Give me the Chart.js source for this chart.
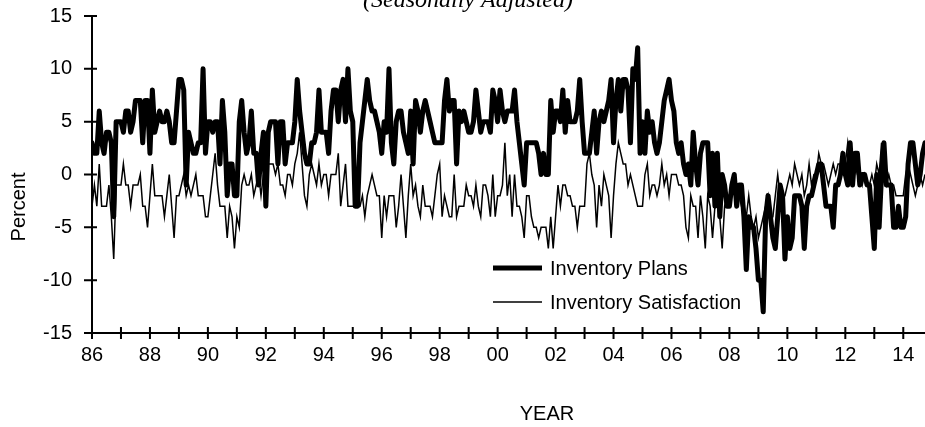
<!DOCTYPE html>
<html>
<head>
<meta charset="utf-8">
<script src="https://cdn.jsdelivr.net/npm/chart.js@4.4.1/dist/chart.umd.min.js"></script>
<style>
  html, body { margin: 0; padding: 0; background: #fff; }
  #wrap { width: 925px; height: 427px; position: relative; }
</style>
</head>
<body>
<div id="wrap"><canvas id="chart"></canvas></div>
<script>
// monthly values, Jan 1986 onwards (net percent, seasonally adjusted)
const startYear = 1986;

const plans = [
  3, 2, 2, 6, 3, 2, 4, 4, 3, -4, 5, 5,
  5, 4, 6, 6, 4, 5, 7, 7, 7, 3, 7, 7,
  2, 8, 4, 5, 6, 5, 5, 6, 5, 3, 3, 6,
  9, 9, 8, -1, 4, 3, 2, 2, 3, 3, 10, 2,
  5, 5, 4, 5, 5, 1, 7, 4, -2, 1, 1, -2,
  -2, 5, 7, 4, 2, 3, 6, 2, 2, -1, 2, 4,
  -3, 4, 5, 5, 5, 1, 5, 5, 1, 3, 3, 3,
  5, 9, 6, 4, 2, 1, 1, 3, 3, 4, 8, 4,
  4, 4, 2, 6, 8, 8, 5, 8, 9, 5, 10, 6,
  5, -3, -3, 3, 5, 7, 9, 7, 6, 6, 5, 4,
  2, 5, 4, 10, 3, 1, 5, 6, 6, 4, 3, 2,
  6, 1, 7, 6, 4, 6, 7, 6, 5, 4, 3, 3,
  3, 3, 7, 9, 6, 7, 7, 1, 6, 5, 6, 5,
  4, 4, 5, 8, 6, 4, 5, 5, 5, 4, 8, 7,
  5, 8, 6, 5, 6, 6, 6, 8, 5, 3, 1, -1,
  3, 3, 3, 3, 3, 2, 0, 2, 0, 0, 7, 4,
  6, 6, 5, 8, 4, 7, 5, 5, 5, 6, 9, 5,
  2, 2, 2, 4, 6, 2, 5, 6, 5, 6, 7, 9,
  3, 7, 9, 6, 9, 9, 8, 3, 10, 9, 12, 2,
  5, 2, 6, 4, 5, 3, 2, 3, 5, 7, 8, 9,
  7, 6, 3, 2, 3, 1, 0, 1, -1, 4, 1, -1,
  2, 3, 3, 3, -2, 2, -3, 2, -4, 0, -1, -3,
  -3, -1, 0, -3, -1, -1, -4, -9, -4, -5, -5, -7,
  -10, -10, -13, -4, -2, -4, -6, -7, -4, -1, -2, -8,
  -4, -7, -6, -2, -2, -2, -3, -7, -3, -2, -2, -1,
  0, 1, 1, -1, -3, -3, -3, -5, -1, -1, 0, 2,
  0, -1, 3, -1, 2, 2, -1, 0, 0, -1, -1, -4,
  -7, 0, -5, 0, 3, -1, -1, -1, -5, -5, -3, -5,
  -5, -4, 1, 3, 3, 1, -1, 0, 2, 3
];

const satisfaction = [
  -3, -1, -3, 1, -3, -3, -3, -1, -4, -8, -1, -1,
  -1, 1, -1, -1, -3, -1, -1, -1, 0, -3, -3, -5,
  -2, 1, -2, -2, -2, -2, -4, -2, 0, -3, -6, -2,
  -2, -1, 0, -2, -1, -2, -1, 0, -2, -2, -2, -4,
  -4, -2, 0, 2, -1, -3, -3, -3, -6, -3, -4, -7,
  -4, -5, -1, 0, -1, -1, 0, -2, -1, 0, -2, 0,
  -3, 1, 1, 1, 0, 1, -1, -1, -2, 0, 0, -1,
  1, 2, 4, 1, -2, -3, 0, 1, 0, -1, 1, -1,
  0, 0, -2, 0, 0, 0, 2, -3, -1, 1, -3, -3,
  -3, -3, -3, -3, -2, -4, -2, -1, 0, -1, -2, -2,
  -6, -2, -4, -2, -2, -2, -5, -3, 0, -3, -6, -2,
  1, -2, -1, -3, -4, -1, -3, -3, -3, -4, -2, 0,
  1, -4, -2, -3, -4, -4, 0, -4, -3, -3, -3, -1,
  -2, -2, -3, -1, -3, -4, -1, -1, -2, -4, 0, -4,
  -2, -2, -1, 3, -2, 0, -4, 0, -3, -3, -4, -6,
  -2, -2, -4, -5, -5, -6, -5, -5, -5, -7, -4, -7,
  -4, -1, -3, -1, -1, -2, -2, -3, -3, -5, -3, -3,
  -3, 1, 2, 0, -1, -5, -1, -3, 0, -1, -2, -6,
  -2, 1, 3, 2, 1, 1, -1, 0, -1, -2, -3, -3,
  -3, 0, 1, -2, -1, -1, -2, -1, 1, -1, 0, -2,
  0, 0, 0, -1, -1, -2, -5, -6, -2, -3, -3, -6,
  -2, -4, -7, -2, -3, -6, -3, -3, -4, -7, -3, -2,
  -2, -1, -1, -1, -2, -3, -3, -4, -2, -4, -5, -4,
  -6, -5, -4, -3, -2, -4, -4, -2, 0, -2, -2, -2,
  -1, 0, -1, 1, 0, -1, 0, -2, -1, 1, -1, 0,
  0, 2, 1, 1, 0, -1, 0, 1, 0, 1, 1, 2,
  1, 3, 1, 1, 1, 0, 0, -1, 0, -1, -1, 0,
  -1, 1, 0, 3, 0, -1, 0, -1, -1, -2, -2, -2,
  -2, 0, 1, 0, -1, -2, -1, 0, -1, 0
];

const seriesNames = ['Inventory Plans', 'Inventory Satisfaction'];
const subtitle = '(Seasonally Adjusted)';
const xTitle = 'YEAR';
const yTitle = 'Percent';

const SANS = '"Liberation Sans", Arial, sans-serif';

function toPoints(values) {
  return values.map((v, i) => ({ x: startYear + i / 12, y: v }));
}
const lastX = startYear + (plans.length - 1) / 12;

// ticks crossing the axes, inset legend, titles
const decorations = {
  id: 'decorations',
  afterDraw(chart) {
    const ctx = chart.ctx;
    const xs = chart.scales.x, ys = chart.scales.y;
    const area = chart.chartArea;
    ctx.save();
    ctx.strokeStyle = '#000';
    ctx.lineWidth = 2;
    ctx.beginPath();
    xs.ticks.forEach(t => {
      const px = xs.getPixelForValue(t.value);
      ctx.moveTo(px, area.bottom - 6);
      ctx.lineTo(px, area.bottom + 6);
    });
    ys.ticks.forEach(t => {
      const py = ys.getPixelForValue(t.value);
      ctx.moveTo(area.left - 8, py);
      ctx.lineTo(area.left + 5, py);
    });
    ctx.stroke();

    // legend
    ctx.fillStyle = '#000';
    ctx.font = '20px ' + SANS;
    ctx.textBaseline = 'middle';
    ctx.textAlign = 'left';
    const rows = [268, 302];
    chart.data.datasets.forEach((ds, i) => {
      ctx.beginPath();
      ctx.lineWidth = ds.borderWidth;
      ctx.lineCap = 'butt';
      ctx.moveTo(493, rows[i]);
      ctx.lineTo(542, rows[i]);
      ctx.stroke();
      ctx.fillText(ds.label, 550, rows[i] + 1);
    });

    // axis titles
    ctx.textBaseline = 'alphabetic';
    ctx.textAlign = 'center';
    ctx.fillText(xTitle, 547, 420);
    ctx.save();
    ctx.translate(25, 207);
    ctx.rotate(-Math.PI / 2);
    ctx.fillText(yTitle, 0, 0);
    ctx.restore();

    // subtitle, cut by the top edge as in the source
    ctx.font = 'italic 24px "Liberation Serif", "Times New Roman", serif';
    ctx.fillText(subtitle, 468, 7);
    ctx.restore();
  }
};

const ctx = document.getElementById('chart').getContext('2d');
new Chart(ctx, {
  type: 'line',
  data: {
    datasets: [
      {
        label: seriesNames[0],
        data: toPoints(plans),
        borderColor: '#000',
        borderWidth: 5,
        borderJoinStyle: 'round',
        borderCapStyle: 'round',
        pointRadius: 0,
        tension: 0,
        fill: false
      },
      {
        label: seriesNames[1],
        data: toPoints(satisfaction),
        borderColor: '#000',
        borderWidth: 1.5,
        pointRadius: 0,
        tension: 0,
        fill: false
      }
    ]
  },
  options: {
    responsive: true,
    maintainAspectRatio: false,
    animation: false,
    layout: { padding: { top: 16, right: 0, bottom: 0, left: 0 } },
    plugins: {
      legend: { display: false },
      tooltip: { enabled: false },
      title: { display: false }
    },
    scales: {
      x: {
        type: 'linear',
        min: startYear,
        max: lastX,
        grid: { display: false, drawTicks: false },
        border: { display: true, color: '#000', width: 2 },
        afterFit: scale => {
          scale.height = 94;
          scale.paddingLeft = 0;
          scale.paddingRight = 0;
        },
        afterBuildTicks: scale => {
          scale.ticks = scale.ticks.filter(t => Number.isInteger(t.value));
        },
        ticks: {
          stepSize: 1,
          includeBounds: false,
          autoSkip: false,
          maxRotation: 0,
          padding: 10,
          color: '#000',
          font: { family: SANS, size: 20 },
          callback: v => (v % 2 === 0 ? String(v).slice(2) : '')
        }
      },
      y: {
        min: -15,
        max: 15,
        grid: { display: false, drawTicks: false },
        border: { display: true, color: '#000', width: 2 },
        afterFit: scale => {
          scale.width = 92;
          scale.paddingTop = 0;
          scale.paddingBottom = 0;
        },
        ticks: {
          stepSize: 5,
          padding: 20,
          color: '#000',
          font: { family: SANS, size: 20 }
        }
      }
    }
  },
  plugins: [decorations]
});
</script>
</body>
</html>
